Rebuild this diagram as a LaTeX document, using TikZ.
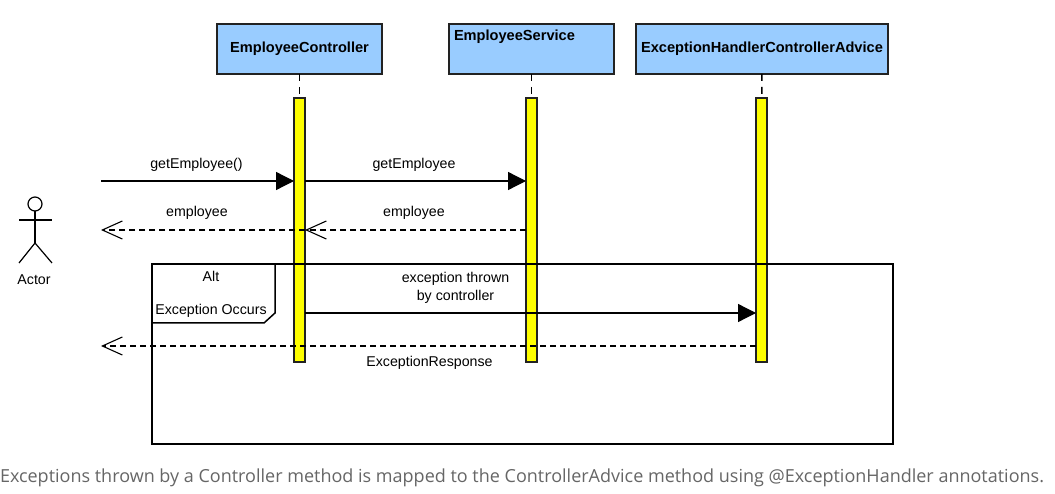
\documentclass[tikz,border=0pt]{standalone}
\usepackage{fontspec}
\setmainfont{Liberation Sans}
\newfontfamily\capfont{Open Sans}
\usetikzlibrary{arrows.meta}
\definecolor{headblue}{RGB}{153,204,255}
\definecolor{barfill}{RGB}{255,255,0}
\definecolor{bargray}{RGB}{34,34,34}
\definecolor{capgray}{RGB}{102,102,102}
\tikzset{
  every node/.style={inner sep=0pt,outer sep=0pt,font=\fontsize{14.2}{17.5}\selectfont},
  head/.style={draw=bargray,fill=headblue,line width=1.5pt,minimum height=50pt,font=\fontsize{14.6}{17}\selectfont\bfseries},
  bar/.style={draw=bargray,fill=barfill,line width=1.3pt,minimum width=11pt,minimum height=264pt},
  call/.style={line width=1.3pt,-{Triangle[length=18pt,width=18pt]}},
  back/.style={line width=1.1pt,dash pattern=on 6pt off 4pt,-{Straight Barb[length=20pt,width=18pt,line width=1.1pt]}},
  life/.style={line width=1.5pt,dash pattern=on 7pt off 6pt},
}
\begin{document}
\begin{tikzpicture}[x=1pt,y=-1pt]
    \useasboundingbox[fill=white] (0,0) rectangle (1055,494);

    \node[head,minimum width=165pt](ctrl) at (299.5,49) {EmployeeController};
    \node[head,minimum width=165pt](serv) at (531.5,49) {};
    \node[font=\fontsize{14.6}{17}\selectfont\bfseries,anchor=west](servtext) at (454,37) {EmployeeService};
    \node[head,minimum width=252pt](advice) at (762,49) {ExceptionHandlerControllerAdvice};

    \node[bar](ctrlbar) at (299.5,230) {};
    \node[bar](servbar) at (531.5,230) {};
    \node[bar](advicebar) at (761.5,230) {};

    \draw [life] (ctrl) -- (ctrlbar);
    \draw [life] (serv) -- (servbar);
    \draw [life] (advice) -- (advicebar);

    % actor
    \node[circle,draw,line width=1.2pt,minimum size=14pt](head) at (35,204) {};
    \coordinate (neck) at (35,243);
    \coordinate (armleft) at (19,220);
    \coordinate (armright) at (52,220);
    \coordinate (footleft) at (19,263);
    \coordinate (footright) at (52,263);
    \draw [line width=1.2pt] (head) -- (neck);
    \draw [line width=1.2pt] (armleft) -- (armright);
    \draw [line width=1.2pt] (footleft) -- (neck) -- (footright);
    \node(actor) at (34,280) {Actor};

    % alt frame
    \node[draw,line width=1.7pt,minimum width=741pt,minimum height=180pt,anchor=north west](frame) at (152,264) {};
    \draw [line width=1.5pt] (275,264) -- (275,313) -- (264,323) -- (152,323);
    \node(alt) at (211,276) {Alt};
    \node(occurs) at (211,311) {Exception Occurs};

    \coordinate (in1) at (101,181);
    \coordinate (out1) at (101,230);
    \coordinate (out2) at (101,346);

    \draw [call] (in1) -- (in1 -| ctrlbar.west);
    \draw [call] (ctrlbar.east |- in1) -- (servbar.west |- in1);
    \draw [back] (servbar.west |- out1) -- (ctrlbar.east |- out1);
    \draw [back] (ctrlbar.east |- out1) -- (out1);
    \coordinate (thrown) at (ctrlbar.east |- 0,313);
    \draw [call] (thrown) -- (thrown -| advicebar.west);
    \draw [back] (advicebar.west |- out2) -- (out2);

    \node(l1) at (196.5,165) {getEmployee()};
    \node(l2) at (414,165) {getEmployee};
    \node(l3) at (197,213) {employee};
    \node(l4) at (414,213) {employee};
    \node[align=center](l5) at (455.5,288) {exception thrown\\by controller};
    \node(l6) at (429.5,363) {ExceptionResponse};

    \node[font=\fontsize{18}{20}\selectfont\capfont,text=capgray,anchor=base west](caption) at (0,482)
      {Exceptions thrown by a Controller method is mapped to the ControllerAdvice method using @ExceptionHandler annotations.};
\end{tikzpicture}
\end{document}
